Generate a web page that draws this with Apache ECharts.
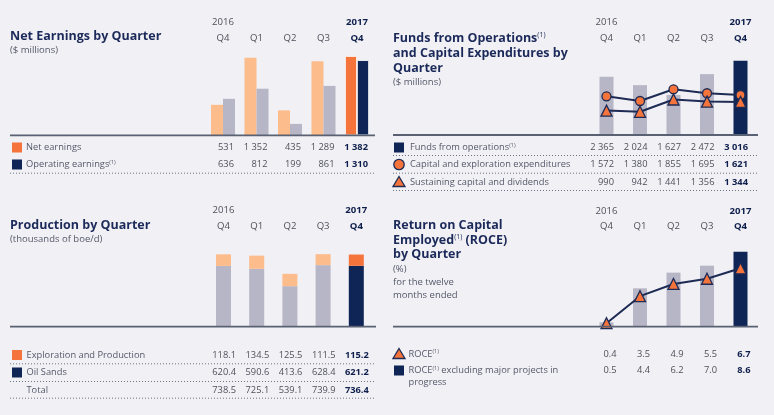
<!DOCTYPE html>
<html><head><meta charset="utf-8">
<script src="https://cdn.jsdelivr.net/npm/echarts@6/dist/echarts.min.js"></script>
<style>html,body{margin:0;padding:0;background:#f1f0f4}#c{width:774px;height:415px}</style>
</head><body><div id="c"></div>
<script>
// ---- data ----
const quarters = ['Q4 2016','Q1 2017','Q2 2017','Q3 2017','Q4 2017'];
const quarterLabels = ['Q4','Q1','Q2','Q3','Q4'];
const yearLabels = ['2016','','','','2017'];
const netEarnings = [531,1352,435,1289,1382];
const operatingEarnings = [636,812,199,861,1310];
const fundsFromOperations = [2365,2024,1627,2472,3016];
const capitalExpenditures = [1572,1380,1855,1695,1621];
const sustainingCapital = [990,942,1441,1356,1344];
const explorationProduction = [118.1,134.5,125.5,111.5,115.2];
const oilSands = [620.4,590.6,413.6,628.4,621.2];
const productionTotal = [738.5,725.1,539.1,739.9,736.4];
const roce = [0.4,3.5,4.9,5.5,6.7];
const roceExMajor = [0.5,4.4,6.2,7.0,8.6];

// ---- styles ----
const FONT = '"Open Sans", "Noto Sans", sans-serif';
const NAVY = '#0f2556', ORANGE = '#f4743b', LORANGE = '#fdbc8b', GRAY = '#b7b6c6';
const LINE = '#1d2b55', AXIS = '#596173', TITLE = '#1b2a5a', TXT = '#55586a', VAL = '#4f505c', BOLD = '#0f1f4d';
const DOT = '#6d7182';

function hl(arr, light, strong, extra) {
  return arr.map((v, i) => ({ value: v, itemStyle: Object.assign({ color: i === arr.length - 1 ? strong : light }, (i === arr.length - 1 && extra) ? extra : {}) }));
}
const lineSeries = (name, data, x, y, symbol, size) => ({
  name, type: 'line', data, xAxisIndex: x, yAxisIndex: y, symbol, symbolSize: size, z: 5,
  lineStyle: { color: LINE, width: 2 },
  itemStyle: { color: ORANGE, borderColor: LINE, borderWidth: 1.3 }
});

const chart = echarts.init(document.getElementById('c'), null, { renderer: 'canvas' });
const grids = [
  { left: 206.25, width: 167.5, top: 43.5, height: 91.8 },
  { left: 589.75, width: 167.5, top: 48.8, height: 86.2 },
  { left: 206.9, width: 166, top: 248.3, height: 78.4 },
  { left: 589.75, width: 167.5, top: 239.5, height: 87.2 }
];
const yMax = [1600, 3500, 800, 10];
chart.setOption({
  animation: false,
  backgroundColor: '#f1f0f4',
  grid: grids,
  xAxis: grids.map((g, i) => ({ type: 'category', gridIndex: i, data: quarters, show: false })),
  yAxis: grids.map((g, i) => ({ type: 'value', gridIndex: i, min: 0, max: yMax[i], show: false })),
  series: [
    { name: 'Net earnings', type: 'bar', xAxisIndex: 0, yAxisIndex: 0, barWidth: 12, barGap: '0%',
      data: hl(netEarnings, LORANGE, ORANGE, { borderColor: '#ffffff', borderWidth: 0.8 }) },
    { name: 'Operating earnings', type: 'bar', xAxisIndex: 0, yAxisIndex: 0, barWidth: 12, barGap: '0%',
      data: hl(operatingEarnings, GRAY, NAVY, { borderColor: '#ffffff', borderWidth: 0.8 }) },
    { name: 'Funds from operations', type: 'bar', xAxisIndex: 1, yAxisIndex: 1, barWidth: 14,
      data: hl(fundsFromOperations, GRAY, NAVY) },
    lineSeries('Capital and exploration expenditures', capitalExpenditures, 1, 1, 'circle', 9),
    lineSeries('Sustaining capital and dividends', sustainingCapital, 1, 1, 'triangle', 11),
    { name: 'Oil Sands', type: 'bar', stack: 'p', xAxisIndex: 2, yAxisIndex: 2, barWidth: 15,
      data: hl(oilSands, GRAY, NAVY) },
    { name: 'Exploration and Production', type: 'bar', stack: 'p', xAxisIndex: 2, yAxisIndex: 2, barWidth: 15,
      data: hl(explorationProduction, LORANGE, ORANGE) },
    { name: 'ROCE excl', type: 'bar', xAxisIndex: 3, yAxisIndex: 3, barWidth: 14,
      data: hl(roceExMajor, GRAY, NAVY) },
    lineSeries('ROCE', roce, 3, 3, 'triangle', 11)
  ]
});

// ---- texts / table ----
// text with optional superscript part marked as {s|(1)}
function T(x, y, text, o) {
  o = o || {};
  const size = o.size || 9.3;
  return { type: 'text', x, y, silent: true, z: 20, style: {
    text, fontFamily: FONT, fontSize: size, fontWeight: o.bold ? 'bold' : 'normal',
    fill: o.color || TXT, align: o.align || 'left', verticalAlign: 'middle',
    rich: { s: { fontFamily: FONT, fontSize: Math.max(5.5, Math.round(size * 0.55)), fontWeight: 'normal', fill: o.color || TXT,
                 verticalAlign: 'top', lineHeight: size * 1.1 } } } };
}
function dotted(x1, x2, y) {
  return { type: 'line', silent: true, z: 20, shape: { x1, y1: y + 0.5, x2, y2: y + 0.5 },
    style: { stroke: DOT, lineWidth: 1, lineDash: [1, 2] } };
}
function swatch(kind, cx, cy, color) {
  if (kind === 'rect') return { type: 'rect', silent: true, z: 20, shape: { x: cx - 5, y: cy - 5, width: 10, height: 10 }, style: { fill: color } };
  if (kind === 'circle') return { type: 'circle', silent: true, z: 20, shape: { cx, cy, r: 5.2 }, style: { fill: ORANGE, stroke: LINE, lineWidth: 1.3 } };
  if (kind === 'tri') return { type: 'polygon', silent: true, z: 20, shape: { points: [[cx, cy - 5.5], [cx + 6, cy + 4.5], [cx - 6, cy + 4.5]] }, style: { fill: ORANGE, stroke: LINE, lineWidth: 1.3 } };
  return null;
}
const f0 = v => v >= 1000 ? Math.floor(v / 1000) + ' ' + String(v % 1000).padStart(3, '0') : String(v);
const f1 = v => v.toFixed(1);

const panels = [
  { axis: 0, x0: 10, x1: 375, base: 135.3, yearY: 22, qY: 38, sw: 17, tx: 26, off: 11,
    titles: [['Net Earnings by Quarter', 36]], subs: [['($ millions)', 50.5]],
    rows: [
      { label: 'Net earnings', vals: netEarnings, fmt: f0, y: 147.5, sw: ['rect', ORANGE] },
      { label: 'Operating earnings{s|(1)}', vals: operatingEarnings, fmt: f0, y: 164.5, sw: ['rect', NAVY] }
    ], dots: [172.7] },
  { axis: 1, x0: 393, x1: 758, base: 135, yearY: 22, qY: 38, sw: 399, tx: 410, off: 7.5,
    titles: [['Funds from Operations{s|(1)}', 38], ['and Capital Expenditures by', 53.5], ['Quarter', 68]],
    subs: [['($ millions)', 82]],
    rows: [
      { label: 'Funds from operations{s|(1)}', vals: fundsFromOperations, fmt: f0, y: 147.5, sw: ['rect', NAVY] },
      { label: 'Capital and exploration expenditures', vals: capitalExpenditures, fmt: f0, y: 164.5, sw: ['circle'] },
      { label: 'Sustaining capital and dividends', vals: sustainingCapital, fmt: f0, y: 182, sw: ['tri'] }
    ], dots: [155, 172.7, 190] },
  { axis: 2, x0: 10, x1: 376, base: 326.7, yearY: 210.5, qY: 226, sw: 17, tx: 26.5, off: 12.5,
    titles: [['Production by Quarter', 225.7]], subs: [['(thousands of boe/d)', 239.7]],
    rows: [
      { label: 'Exploration and Production', vals: explorationProduction, fmt: f1, y: 355, sw: ['rect', ORANGE] },
      { label: 'Oil Sands', vals: oilSands, fmt: f1, y: 372.5, sw: ['rect', NAVY] },
      { label: 'Total', vals: productionTotal, fmt: f1, y: 390, sw: null }
    ], dots: [363.3, 381, 397.7] },
  { axis: 3, x0: 393, x1: 758, base: 326.7, yearY: 211, qY: 226, sw: 399, tx: 408.5, off: 10,
    titles: [['Return on Capital', 225.3], ['Employed{s|(1)} (ROCE)', 240.3], ['by Quarter', 254.7]],
    subs: [['(%)', 269], ['for the twelve', 282.3], ['months ended', 295.5]],
    rows: [
      { label: 'ROCE{s|(1)}', vals: roce, fmt: f1, y: 354, sw: ['tri'] },
      { label: 'ROCE{s|(1)} excluding major projects in', vals: roceExMajor, fmt: f1, y: 370.5, sw: ['rect', NAVY], extra: ['progress', 382.5] }
    ], dots: [] }
];

const g = [];
panels.forEach(p => {
  const cx = quarters.map(q => chart.convertToPixel({ xAxisIndex: p.axis }, q));
  p.titles.forEach(t => g.push(T(p.x0, t[1], t[0], { size: 12.5, bold: true, color: TITLE })));
  p.subs.forEach(s => g.push(T(p.x0, s[1], s[0], { size: 9.5, color: TXT })));
  cx.forEach((x, i) => {
    const last = i === cx.length - 1;
    if (yearLabels[i]) g.push(T(x, p.yearY, yearLabels[i], { size: 9.6, align: 'center', bold: last, color: last ? BOLD : VAL }));
    g.push(T(x, p.qY, quarterLabels[i], { size: 9.6, align: 'center', bold: last, color: last ? BOLD : VAL }));
  });
  g.push({ type: 'line', silent: true, z: 15, shape: { x1: p.x0, y1: p.base, x2: p.x1, y2: p.base }, style: { stroke: AXIS, lineWidth: 1.8 } });
  p.rows.forEach(r => {
    if (r.sw) g.push(swatch(r.sw[0], p.sw, r.y, r.sw[1]));
    g.push(T(p.tx, r.y, r.label, { color: TXT }));
    if (r.extra) g.push(T(p.tx, r.extra[1], r.extra[0], { color: TXT }));
    r.vals.forEach((v, i) => {
      const last = i === r.vals.length - 1;
      g.push(T(cx[i] + p.off, r.y, r.fmt(v), { align: 'right', bold: last, color: last ? BOLD : VAL }));
    });
  });
  p.dots.forEach(y => g.push(dotted(p.x0, p.x1, y)));
});
chart.setOption({ graphic: { elements: g } });
</script></body></html>
